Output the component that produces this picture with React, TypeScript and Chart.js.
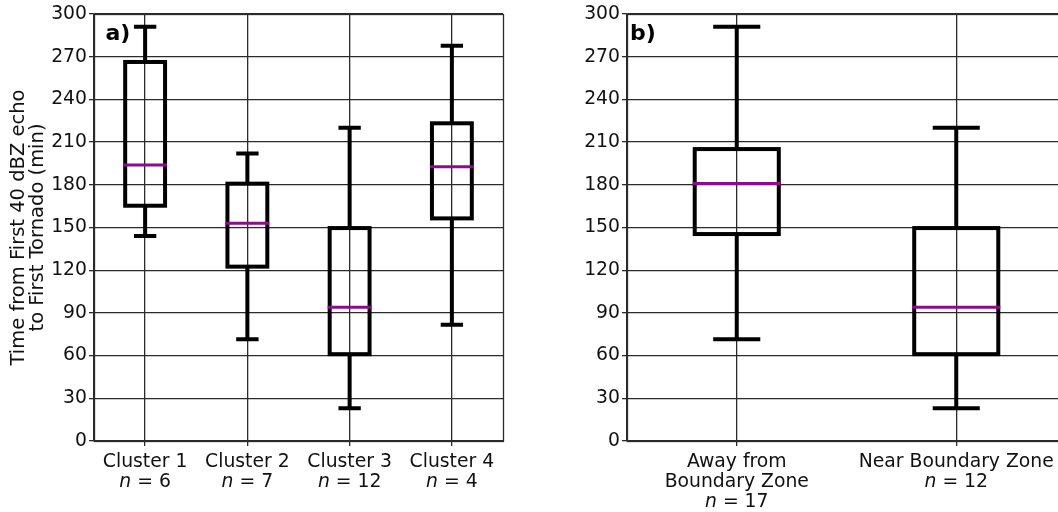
import React, { useEffect, useRef } from "react";
import { Chart, registerables } from "chart.js";

Chart.register(...registerables);

// ---------- data ----------
const clusterLabels = ["Cluster 1", "Cluster 2", "Cluster 3", "Cluster 4"];
const clusterN = ["6", "7", "12", "4"];
const clusterMin = [144, 71.5, 23, 81.7];
const clusterQ1 = [165.3, 122.5, 61, 156.4];
const clusterMedian = [193.9, 152.9, 94, 192.7];
const clusterQ3 = [266.3, 180.8, 149.6, 223.2];
const clusterMax = [291, 202, 220, 277.7];

const zoneLabels = [["Away from", "Boundary Zone"], ["Near Boundary Zone"]];
const zoneN = ["17", "12"];
const zoneMin = [71.5, 23];
const zoneQ1 = [145.4, 61];
const zoneMedian = [181, 94];
const zoneQ3 = [205.1, 149.6];
const zoneMax = [291, 220];

const yMin = 0;
const yMax = 300;
const yStep = 30;
const yTitle = ["Time from First 40 dBZ echo", "to First Tornado (min)"];

// ---------- style ----------
const FONT = '"DejaVu Sans", "Liberation Sans", sans-serif';
const TEXT = "#111";
const GRID = "#2b2b2b";
const MEDIAN = "#8e0a8e";
const TICK_SIZE = 18.8;

type Stats = { min: number[]; q1: number[]; med: number[]; q3: number[]; max: number[] };

function boxPlugin(
  stats: Stats,
  labels: string[][],
  nValues: string[],
  panelText: string,
  panelDx: number
) {
  return {
    id: "boxes",
    afterDatasetsDraw(chart: any) {
      const ctx = chart.ctx as CanvasRenderingContext2D;
      const ys = chart.scales.y;
      const area = chart.chartArea;
      const py = (v: number) => ys.getPixelForValue(v);
      const meta = chart.getDatasetMeta(0);

      // frame
      ctx.save();
      ctx.strokeStyle = GRID;
      ctx.lineWidth = 1.3;
      ctx.strokeRect(Math.round(area.left) + 0.5, Math.round(area.top) + 0.5, area.right - area.left, area.bottom - area.top);
      ctx.restore();

      meta.data.forEach((bar: any, i: number) => {
        const p = bar.getProps(["x", "width"], true);
        const cx = p.x;
        const w = p.width;
        const half = w / 2;
        const cap = (w * 0.56) / 2;
        ctx.save();
        ctx.strokeStyle = "#000";
        ctx.lineWidth = 4;
        ctx.lineCap = "butt";
        ctx.beginPath();
        ctx.moveTo(cx, py(stats.q3[i]));
        ctx.lineTo(cx, py(stats.max[i]));
        ctx.moveTo(cx, py(stats.q1[i]));
        ctx.lineTo(cx, py(stats.min[i]));
        ctx.moveTo(cx - cap, py(stats.max[i]));
        ctx.lineTo(cx + cap, py(stats.max[i]));
        ctx.moveTo(cx - cap, py(stats.min[i]));
        ctx.lineTo(cx + cap, py(stats.min[i]));
        ctx.stroke();
        ctx.strokeRect(cx - half, py(stats.q3[i]), w, py(stats.q1[i]) - py(stats.q3[i]));
        ctx.strokeStyle = MEDIAN;
        ctx.lineWidth = 3;
        ctx.beginPath();
        ctx.moveTo(cx - half - 2, py(stats.med[i]));
        ctx.lineTo(cx + half + 2, py(stats.med[i]));
        ctx.stroke();
        ctx.restore();
      });

      // x labels
      const xs = chart.scales.x;
      const normal = `${TICK_SIZE}px ${FONT}`;
      const italic = `italic ${TICK_SIZE}px ${FONT}`;
      ctx.save();
      ctx.fillStyle = TEXT;
      ctx.textBaseline = "alphabetic";
      labels.forEach((lines, i) => {
        const cx = xs.getPixelForValue(i);
        let base = area.bottom + 26;
        ctx.font = normal;
        ctx.textAlign = "center";
        lines.forEach((ln) => {
          ctx.fillText(ln, cx, base);
          base += 20;
        });
        ctx.font = italic;
        const w1 = ctx.measureText("n").width;
        ctx.font = normal;
        const rest = " = " + nValues[i];
        const w2 = ctx.measureText(rest).width;
        const start = cx - (w1 + w2) / 2;
        ctx.textAlign = "left";
        ctx.font = italic;
        ctx.fillText("n", start, base);
        ctx.font = normal;
        ctx.fillText(rest, start + w1, base);
      });

      // panel label
      ctx.font = `bold 22px ${FONT}`;
      ctx.textAlign = "left";
      ctx.fillStyle = "#000";
      ctx.fillText(panelText, area.left + panelDx, 40);
      ctx.restore();
    },
  };
}

function makeConfig(
  categories: string[],
  stats: Stats,
  labels: string[][],
  nValues: string[],
  panelText: string,
  panelDx: number,
  yWidth: number,
  rightPad: number,
  barPct: number,
  showTitle: boolean
): any {
  return {
    type: "bar",
    data: {
      labels: categories,
      datasets: [
        {
          data: stats.q1.map((q, i) => [q, stats.q3[i]]),
          backgroundColor: "rgba(0,0,0,0)",
          borderWidth: 0,
          barPercentage: barPct,
          categoryPercentage: 1,
        },
      ],
    },
    options: {
      responsive: false,
      animation: false,
      events: [],
      layout: { padding: { top: 14, right: rightPad, left: 0, bottom: 0 } },
      plugins: { legend: { display: false }, tooltip: { enabled: false } },
      scales: {
        x: {
          offset: true,
          grid: { offset: false, color: GRID, lineWidth: 1.3, drawTicks: true, tickLength: 5 },
          border: { display: true, color: GRID, width: 1.3 },
          ticks: { display: false },
          afterFit: (s: any) => {
            s.height = 71;
          },
        },
        y: {
          min: yMin,
          max: yMax,
          ticks: { stepSize: yStep, color: TEXT, padding: 2, font: { family: FONT, size: TICK_SIZE } },
          grid: { color: GRID, lineWidth: 1.3, drawTicks: true, tickLength: 5 },
          border: { display: true, color: GRID, width: 1.3 },
          title: {
            display: showTitle,
            text: yTitle,
            color: TEXT,
            font: { family: FONT, size: 19.5, lineHeight: 0.95 },
            padding: { top: 9.75, bottom: 0 },
          },
          afterFit: (s: any) => {
            s.width = yWidth;
          },
        },
      },
    },
    plugins: [boxPlugin(stats, labels, nValues, panelText, panelDx)],
  };
}

export default function App() {
  const refA = useRef<HTMLCanvasElement>(null);
  const refB = useRef<HTMLCanvasElement>(null);

  useEffect(() => {
    const a = new Chart(
      refA.current as HTMLCanvasElement,
      makeConfig(
        clusterLabels,
        { min: clusterMin, q1: clusterQ1, med: clusterMedian, q3: clusterQ3, max: clusterMax },
        clusterLabels.map((l) => [l]),
        clusterN,
        "a)",
        11.5,
        94,
        57,
        0.39,
        true
      )
    );
    const b = new Chart(
      refB.current as HTMLCanvasElement,
      makeConfig(
        zoneLabels.map((l) => l.join(" ")),
        { min: zoneMin, q1: zoneQ1, med: zoneMedian, q3: zoneQ3, max: zoneMax },
        zoneLabels,
        zoneN,
        "b)",
        3,
        67,
        14,
        0.383,
        false
      )
    );
    return () => {
      a.destroy();
      b.destroy();
    };
  }, []);

  return (
    <div
      style={{
        position: "fixed",
        left: 0,
        top: 0,
        width: 1058,
        height: 512,
        overflow: "hidden",
        background: "#fff",
      }}
    >
      <canvas ref={refA} width={560} height={512} style={{ position: "absolute", left: 0, top: 0 }} />
      <canvas ref={refB} width={520} height={512} style={{ position: "absolute", left: 560, top: 0 }} />
    </div>
  );
}
